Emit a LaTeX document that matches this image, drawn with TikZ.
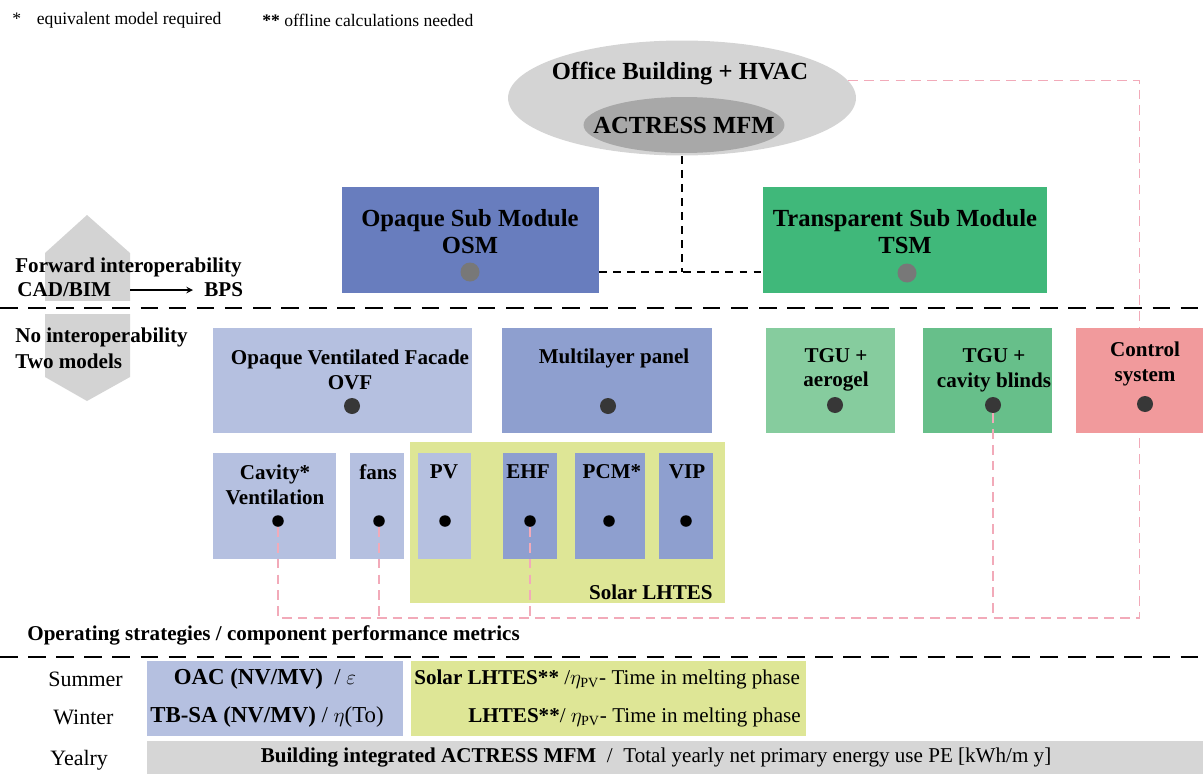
\documentclass[tikz,border=0pt]{standalone}
\usepackage{fontspec}
\setmainfont{Liberation Serif}
\usetikzlibrary{shapes, arrows, positioning}

\definecolor{osmblue}{RGB}{104,125,190}
\definecolor{tsmgreen}{RGB}{64,184,122}
\definecolor{lightblue}{RGB}{181,192,224}
\definecolor{midblue}{RGB}{142,159,207}
\definecolor{aerogreen}{RGB}{134,204,158}
\definecolor{blindgreen}{RGB}{103,191,138}
\definecolor{ctrlpink}{RGB}{241,154,156}
\definecolor{lhtesyellow}{RGB}{222,230,150}
\definecolor{hexgrey}{RGB}{211,211,211}
\definecolor{ellgrey}{RGB}{212,212,212}
\definecolor{ellgreydark}{RGB}{168,168,168}
\definecolor{yeargrey}{RGB}{214,214,214}
\definecolor{pinkdash}{RGB}{242,170,185}
\definecolor{dotgrey}{RGB}{120,120,120}
\definecolor{dotdark}{RGB}{55,55,55}

\begin{document}
\begin{tikzpicture}[x=0.02cm, y=-0.02cm,
		box/.style={rectangle, inner sep=0pt, outer sep=0pt, anchor=north west},
		hdtxt/.style={font=\fontsize{14}{15.4}\selectfont\bfseries, align=center, inner sep=0pt},
		bxtxt/.style={font=\fontsize{12}{14}\selectfont\bfseries, align=center, inner sep=0pt},
		sidetxt/.style={font=\fontsize{12}{13.6}\selectfont\bfseries, align=left, anchor=west, inner sep=0pt},
		rowtxt/.style={font=\fontsize{12.5}{14}\selectfont, anchor=west, inner sep=0pt},
		gdot/.style={circle, fill=dotgrey, inner sep=0pt, minimum size=0.38cm},
		ddot/.style={circle, fill=dotdark, inner sep=0pt, minimum size=0.32cm},
		sdot/.style={circle, fill=black, inner sep=0pt, minimum size=0.23cm},
		sepline/.style={line width=1.4pt, dash pattern=on 10pt off 6pt},
		cline/.style={line width=0.8pt, dash pattern=on 4.5pt off 3.5pt},
		pline/.style={draw=pinkdash, line width=0.9pt, dash pattern=on 5.5pt off 3.5pt}]
	\useasboundingbox (0,0) rectangle (1203,774);

	% legend
	\node[font=\fontsize{10}{12}\selectfont, anchor=west, inner sep=0pt] (leg1) at (12,20) {*\hspace{9pt}equivalent model required};
	\node[font=\fontsize{10}{12}\selectfont, anchor=west, inner sep=0pt] (leg2) at (262,20) {\textbf{**} offline calculations needed};

	% building + HVAC
	\node[ellipse, fill=ellgrey, minimum width=6.96cm, minimum height=2.3cm] (bldg) at (682,98) {};
	\node[ellipse, fill=ellgreydark, minimum width=4.02cm, minimum height=1.12cm] (mfm) at (684,125) {};
	\node[hdtxt] (bldg-t) at (680,74) {Office Building + HVAC};
	\node[hdtxt] (mfm-t) at (684,125) {ACTRESS MFM};

	% interoperability arrow
	\fill[hexgrey] (87,215) -- (130,253) -- (130,377) -- (87,401) -- (45,377) -- (45,253) -- cycle;
	\fill[white] (40,301) rectangle (135,314);
	\node[sidetxt] (fwd) at (15,267) {Forward interoperability};
	\node[sidetxt] (cadbim) at (17,290) {CAD/BIM};
	\node[sidetxt] (bps) at (204,290) {BPS};
	\draw[-stealth, line width=0.7pt] ([xshift=0.38cm]cadbim.east) -- ([xshift=-0.22cm]bps.west);
	\node[sidetxt] (noint) at (15,337) {No interoperability};
	\node[sidetxt] (twom) at (15,361) {Two models};

	% sub modules
	\node[box, fill=osmblue, minimum width=5.14cm, minimum height=2.12cm] (osm) at (342,187) {};
	\node[box, fill=tsmgreen, minimum width=5.68cm, minimum height=2.12cm] (tsm) at (763,187) {};
	\node[hdtxt] (osm-t) at (470,232) {Opaque Sub Module\\OSM};
	\node[hdtxt] (tsm-t) at (905,232) {Transparent Sub Module\\TSM};
	\node[gdot] (osm-dot) at (470,272) {};
	\node[gdot] (tsm-dot) at (907,273) {};

	% components
	\node[box, fill=lightblue, minimum width=5.18cm, minimum height=2.1cm] (ovf) at (213,328) {};
	\node[box, fill=midblue, minimum width=4.2cm, minimum height=2.1cm] (mlp) at (502,328) {};
	\node[box, fill=aerogreen, minimum width=2.58cm, minimum height=2.1cm] (aero) at (766,328) {};
	\node[box, fill=blindgreen, minimum width=2.58cm, minimum height=2.1cm] (blinds) at (923,328) {};
	\node[box, fill=ctrlpink, minimum width=2.54cm, minimum height=2.1cm] (ctrl) at (1076,328) {};
	\node[bxtxt] (ovf-t) at (350,370) {Opaque Ventilated Facade\\OVF};
	\node[bxtxt] (mlp-t) at (614,358) {Multilayer panel};
	\node[bxtxt] (aero-t) at (836,370) {TGU +\\aerogel};
	\node[bxtxt] (blinds-t) at (994,370) {TGU +\\cavity blinds};
	\node[bxtxt] (ctrl-t) at (1145,364) {Control\\system};
	\node[ddot] (ovf-dot) at (352,406) {};
	\node[ddot] (mlp-dot) at (608,406) {};
	\node[ddot] (aero-dot) at (835,405) {};
	\node[ddot] (blinds-dot) at (993,405) {};
	\node[ddot] (ctrl-dot) at (1145,404) {};

	\node[box, fill=lhtesyellow, minimum width=6.3cm, minimum height=3.22cm] (lhtes) at (410,442) {};
	\node[bxtxt, anchor=east] (lhtes-t) at (713,592) {Solar LHTES};
	\node[box, fill=lightblue, minimum width=2.46cm, minimum height=2.12cm] (cav) at (213,453) {};
	\node[box, fill=lightblue, minimum width=1.08cm, minimum height=2.12cm] (fans) at (350,453) {};
	\node[box, fill=lightblue, minimum width=1.06cm, minimum height=2.12cm] (pv) at (418,453) {};
	\node[box, fill=midblue, minimum width=1.08cm, minimum height=2.12cm] (ehf) at (503,453) {};
	\node[box, fill=midblue, minimum width=1.4cm, minimum height=2.12cm] (pcm) at (575,453) {};
	\node[box, fill=midblue, minimum width=1.08cm, minimum height=2.12cm] (vip) at (659,453) {};
	\node[bxtxt] (cav-t) at (275,485) {Cavity*\\Ventilation};
	\node[bxtxt] (fans-t) at (378,472) {fans};
	\node[bxtxt] (pv-t) at (444,472) {PV};
	\node[bxtxt] (ehf-t) at (528,472) {EHF};
	\node[bxtxt] (pcm-t) at (612,472) {PCM*};
	\node[bxtxt] (vip-t) at (687,472) {VIP};
	\node[sdot] (cav-dot) at (278,521) {};
	\node[sdot] (fans-dot) at (379,521) {};
	\node[sdot] (pv-dot) at (445,521) {};
	\node[sdot] (ehf-dot) at (530,521) {};
	\node[sdot] (pcm-dot) at (609,521) {};
	\node[sdot] (vip-dot) at (686,521) {};

	% links
	\coordinate (junc) at (bldg.south |- osm-dot);
	\draw[cline] (bldg.south) -- (junc);
	\draw[cline] (osm.east |- junc) -- (tsm.west |- junc);
	\draw[pline] (bldg.6) -| (ctrl.north);
	\coordinate (busy) at (0,618);
	\draw[pline] (cav-dot) -- (cav-dot |- busy) -| (ctrl.south);
	\draw[pline] (fans-dot) -- (fans-dot |- busy);
	\draw[pline] (ehf-dot) -- (ehf-dot |- busy);
	\draw[pline] (blinds-dot) -- (blinds-dot |- busy);

	% separators
	\draw[sepline] (0,308) -- (1203,308);
	\draw[sepline] (0,657) -- (1203,657);

	% metrics
	\node[anchor=west, inner sep=0pt, font=\fontsize{12}{14}\selectfont\bfseries] (opstr) at (27,635) {Operating strategies / component performance metrics};
	\node[rowtxt] (summer) at (48,679) {Summer};
	\node[rowtxt] (winter) at (53,717) {Winter};
	\node[rowtxt] (yearly) at (50,760) {Yealry};
	\node[box, fill=lightblue, minimum width=5.12cm, minimum height=1.5cm] (seas) at (147,661) {};
	\node[box, fill=lhtesyellow, minimum width=7.9cm, minimum height=1.5cm] (lhtesm) at (411,661) {};
	\node[box, fill=yeargrey, minimum width=21.2cm, minimum height=0.66cm] (year) at (147,741) {};
	\node[inner sep=0pt, font=\fontsize{13}{15}\selectfont] (oac) at (265,679) {\textbf{OAC (NV/MV)}\ \ / $\varepsilon$};
	\node[inner sep=0pt, font=\fontsize{13}{15}\selectfont] (tbsa) at (267,717) {\textbf{TB-SA (NV/MV)} / $\eta$(To)};
	\node[rowtxt, font=\fontsize{12}{14}\selectfont] (solm) at (414,679) {\textbf{Solar LHTES**} /$\eta_{\mathrm{PV}}$- Time in melting phase};
	\node[rowtxt, font=\fontsize{12}{14}\selectfont, anchor=east] (lhtesw) at (801,717) {\textbf{LHTES**}/ $\eta_{\mathrm{PV}}$- Time in melting phase};
	\node[inner sep=0pt, font=\fontsize{12}{14}\selectfont] (year-t) at (656,758) {\textbf{Building integrated ACTRESS MFM}\ \ /\ \ Total yearly net primary energy use PE [kWh/m y]};
\end{tikzpicture}
\end{document}
